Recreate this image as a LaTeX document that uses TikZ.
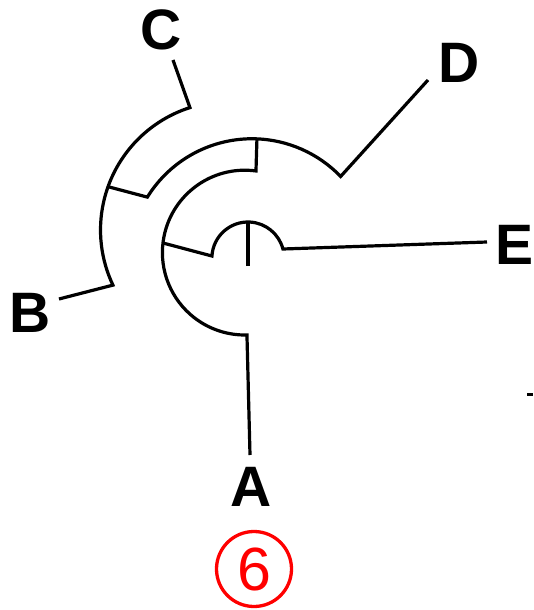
\documentclass[tikz,border=0pt]{standalone}
\usepackage{fontspec}
\setmainfont{Liberation Sans}
\usetikzlibrary{calc}
\begin{document}
\begin{tikzpicture}[x=1pt,y=-1pt,
  branch/.style={line width=3.2pt, line join=miter},
  leaf/.style={font=\fontsize{57}{57}\selectfont\bfseries, inner sep=0pt},
  badge/.style={circle, draw=red, text=red, line width=3.3pt, minimum size=75pt, inner sep=0pt, font=\fontsize{61}{61}\selectfont},
]
\useasboundingbox (0,0) rectangle (534,610);
% arc centres
\coordinate (c1) at (248,258.1);
\coordinate (c2) at (244.8,252.6);
\coordinate (c3) at (252,261.75);
\coordinate (c4) at (229,230);
% internal points on arcs
\coordinate (n1l) at ($(c1)+(183.3:36.1)$);
\coordinate (n1t) at ($(c1)+(270:36.1)$);
\coordinate (n1r) at ($(c1)+(345.4:36.1)$);
\coordinate (n2b) at ($(c2)+(88.5:82.4)$);
\coordinate (n2l) at ($(c2)+(186.7:82.4)$);
\coordinate (n2t) at ($(c2)+(277.8:82.4)$);
\coordinate (n3l) at ($(c3)+(211.7:123)$);
\coordinate (n3t) at ($(c3)+(272.3:123)$);
\coordinate (n3r) at ($(c3)+(316.1:123)$);
\coordinate (n4b) at ($(c4)+(154.6:128.5)$);
\coordinate (n4m) at ($(c4)+(199.7:128.5)$);
\coordinate (n4t) at ($(c4)+(252.3:128.5)$);
% root and leaf tips
\coordinate (root) at (248,266);
\coordinate (tA) at (250,455);
\coordinate (tB) at (59,299);
\coordinate (tC) at (173,60);
\coordinate (tD) at (428,80);
\coordinate (tE) at (487,242);
% branches
\draw[branch] (root) -- (n1t);
\draw[branch] (n2l) -- (n1l) arc[start angle=183.3, end angle=345.4, radius=36.1] -- (tE);
\draw[branch] (n3t) -- (n2t) arc[start angle=277.8, end angle=88.5, radius=82.4] -- (tA);
\draw[branch] (n4m) -- (n3l) arc[start angle=211.7, end angle=316.1, radius=123] -- (tD);
\draw[branch] (tC) -- (n4t) arc[start angle=252.3, end angle=154.6, radius=128.5] -- (tB);
% labels
\node[leaf] (A) at (251,487) {A};
\node[leaf] (B) at (30,313) {B};
\node[leaf] (C) at (161,30) {C};
\node[leaf] (D) at (459,63) {D};
\node[leaf] (E) at (515,245) {E};
\node[badge] (six) at (254,569) {6};
% small dash at right edge
\fill (527,393) rectangle (533,396);
\end{tikzpicture}
\end{document}
